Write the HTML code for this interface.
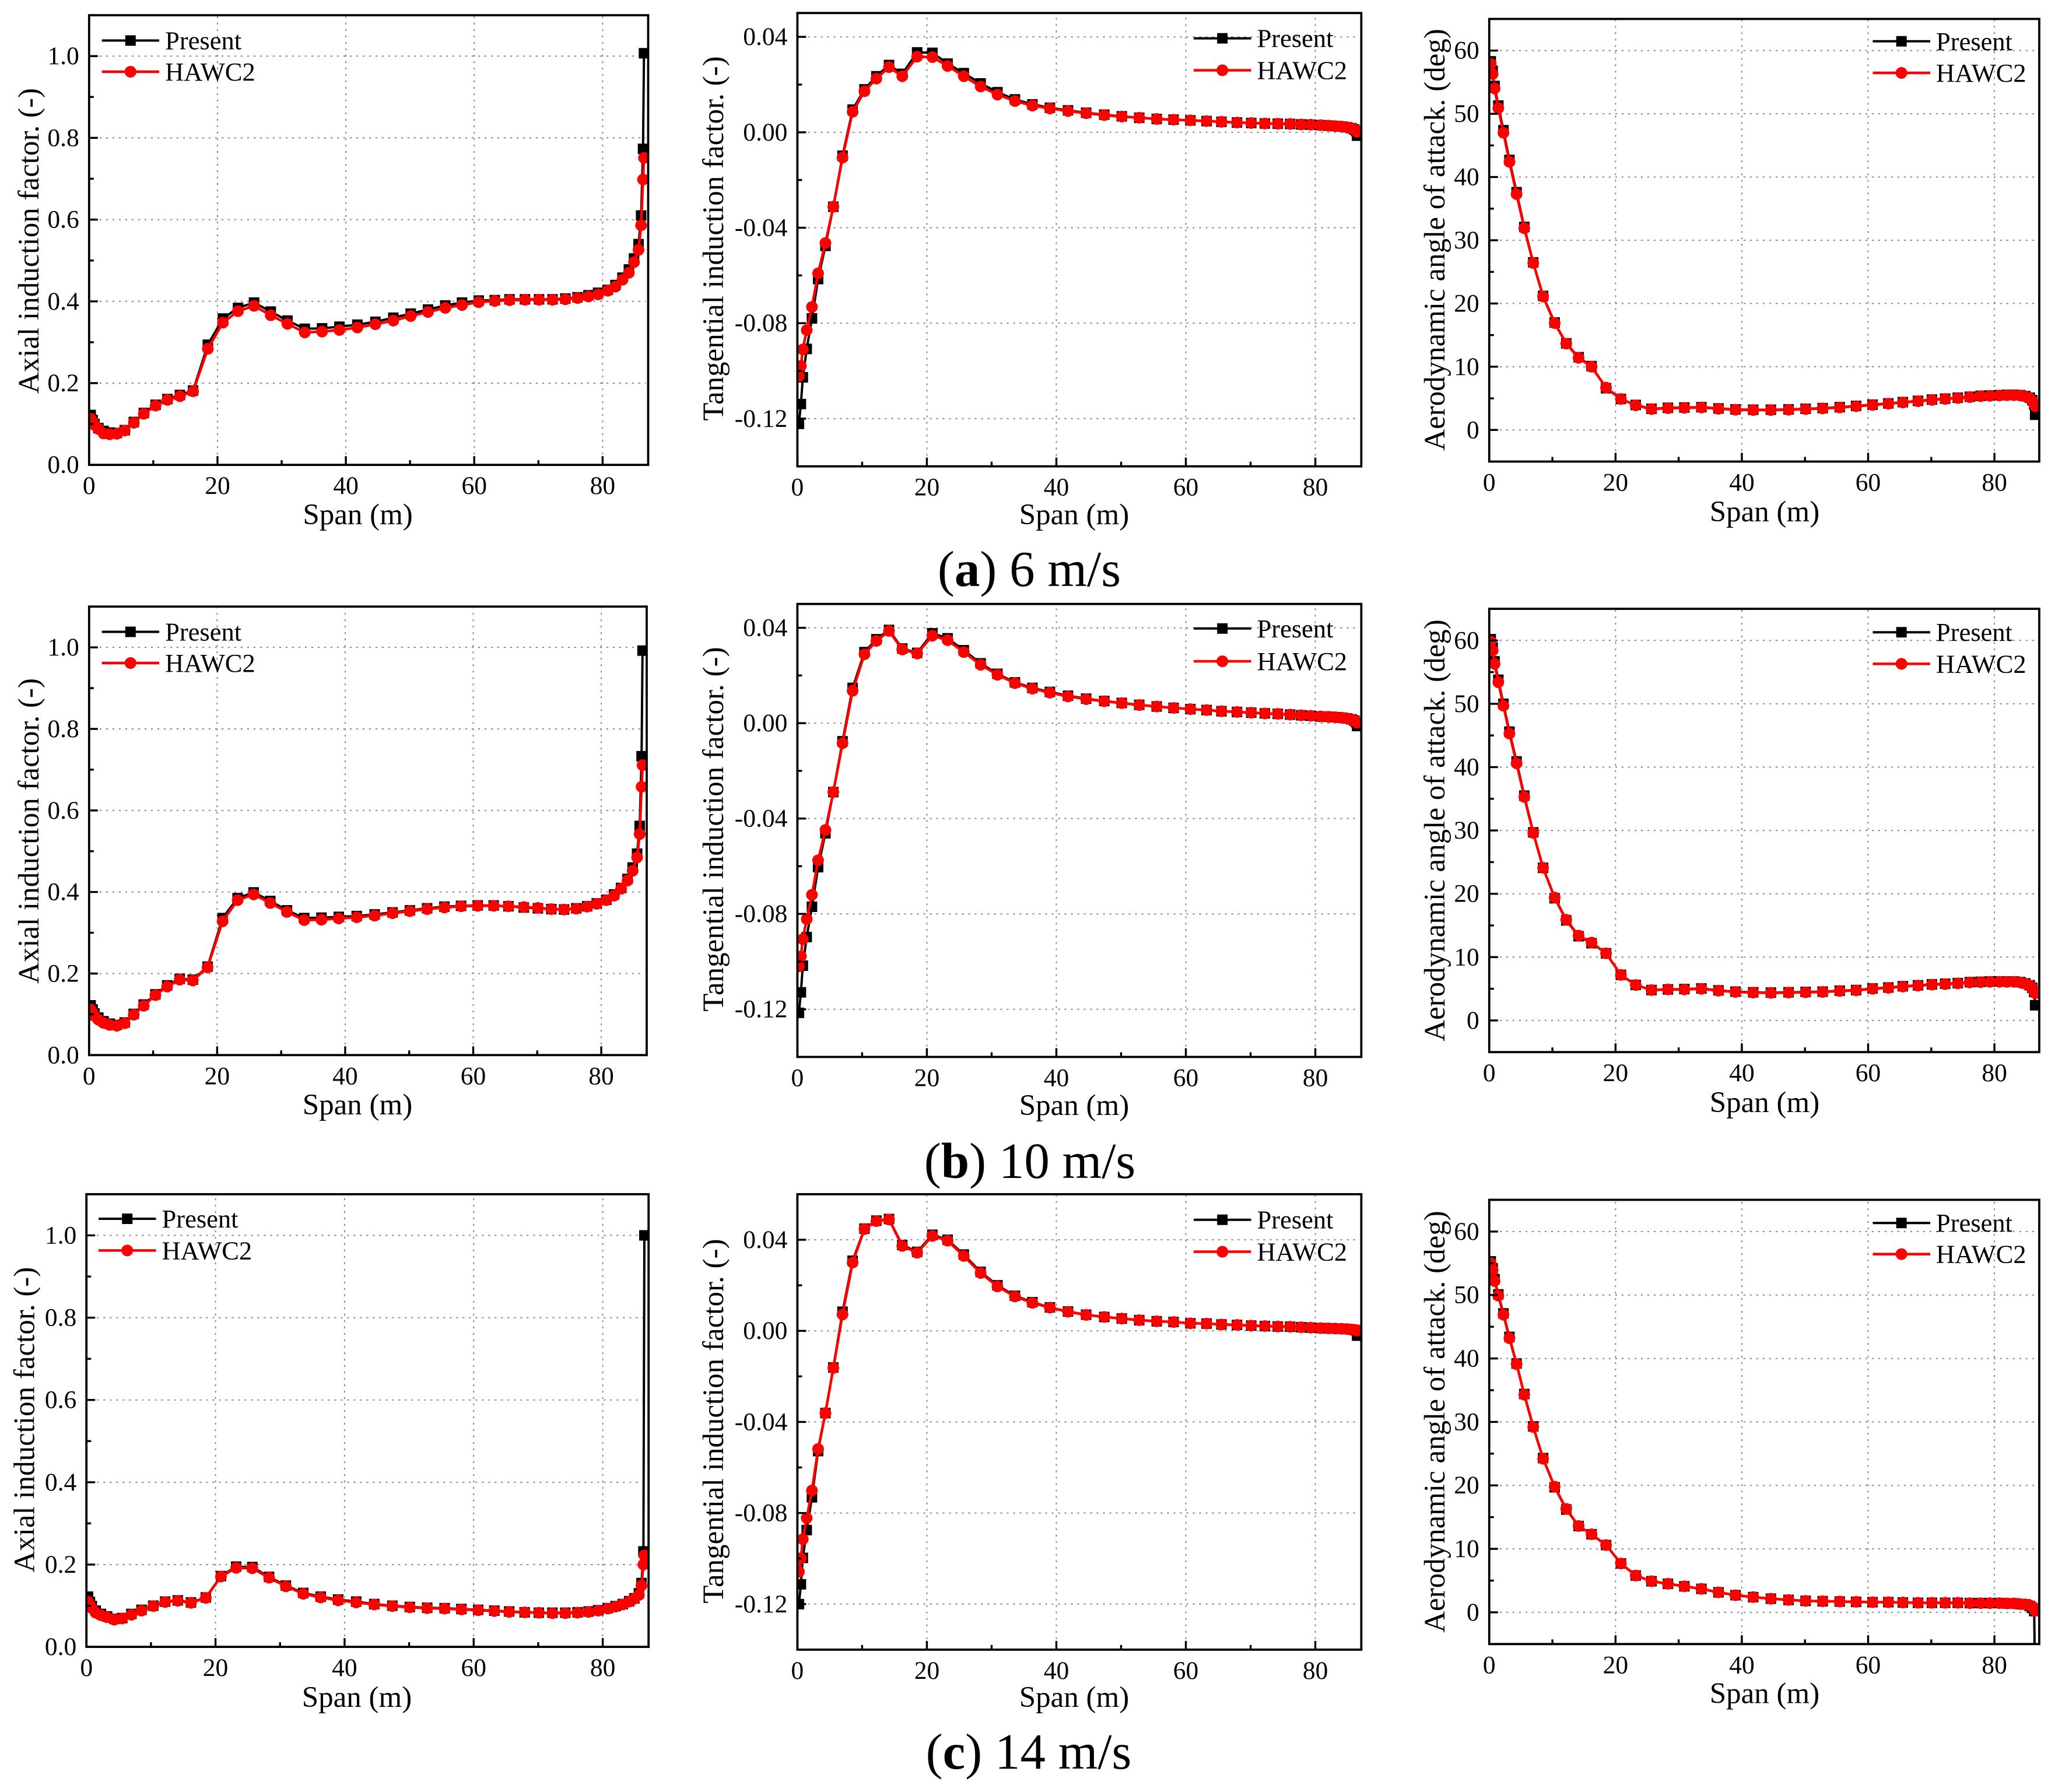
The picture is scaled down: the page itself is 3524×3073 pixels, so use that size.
<!DOCTYPE html>
<html lang="en">
<head>
<meta charset="utf-8">
<title>Induction factors and angle of attack along span</title>
<style>
html,body{margin:0;padding:0;background:#fff;}
svg{display:block;font-family:"Liberation Serif",serif;fill:#000;}
</style>
</head>
<body>
<svg id="figure" xmlns="http://www.w3.org/2000/svg" width="3524" height="3073" viewBox="0 0 3524 3073">
<rect x="0" y="0" width="3524" height="3073" fill="#fff"/>
<text x="1765" y="1005" font-size="87" text-anchor="middle">(<tspan font-weight="bold">a</tspan>) 6 m/s</text>
<text x="1766" y="2020" font-size="87" text-anchor="middle">(<tspan font-weight="bold">b</tspan>) 10 m/s</text>
<text x="1764" y="3033" font-size="87" text-anchor="middle">(<tspan font-weight="bold">c</tspan>) 14 m/s</text>
</svg>
<script>
// ---------- shared categories ----------
const spanStations=[0.24,0.54,0.84,1.44,2.25,3.2,4.33,5.55,6.97,8.53,
10.36,12.2,14.15,16.2,18.5,20.85,23.2,25.7,28.3,30.9,
33.6,36.3,39,41.8,44.6,47.4,50.1,52.8,55.5,58.1,
60.7,63.2,65.5,67.9,70.1,72.2,74.2,76.1,77.8,79.3,
80.8,82,83.1,84.1,84.9,85.6,86,86.3,86.45];

// ---------- axial induction factor ----------
const axial6Present=[.122,.11,.1,.09,.083,.079,.078,.085,.105,.127,
.147,.161,.171,.182,.294,.358,.384,.397,.375,.353,
.333,.334,.338,.343,.35,.36,.37,.38,.39,.397,
.402,.403,.405,.405,.405,.405,.407,.41,.415,.421,
.428,.44,.458,.478,.505,.54,.61,.773,1.007];
const axial6Hawc2=[.113,.105,.098,.088,.077,.075,.076,.084,.103,.125,
.145,.159,.168,.18,.284,.348,.376,.389,.366,.345,
.324,.326,.33,.336,.344,.353,.364,.374,.384,.391,
.398,.401,.403,.404,.404,.404,.405,.408,.412,.417,
.426,.436,.453,.47,.496,.526,.586,.698,.751];
const axial10Present=[.122,.112,.102,.092,.083,.077,.074,.08,.101,.124,
.149,.171,.187,.185,.217,.336,.385,.399,.378,.355,
.336,.337,.339,.341,.345,.35,.355,.36,.364,.366,
.367,.367,.365,.362,.36,.358,.357,.36,.365,.372,
.381,.394,.41,.432,.46,.494,.562,.733,.992];
const axial10Hawc2=[.112,.104,.096,.087,.079,.074,.072,.078,.099,.121,
.147,.168,.185,.183,.215,.328,.38,.394,.373,.351,
.331,.332,.335,.338,.342,.348,.353,.358,.362,.365,
.366,.366,.365,.363,.361,.358,.357,.359,.364,.371,
.38,.391,.408,.428,.452,.485,.542,.658,.711];
const axial14Present=[.122,.109,.099,.088,.08,.074,.068,.07,.08,.09,
.1,.11,.113,.108,.12,.172,.195,.194,.17,.149,
.131,.122,.115,.11,.104,.1,.097,.095,.094,.092,
.09,.088,.086,.084,.083,.083,.083,.084,.086,.089,
.094,.099,.104,.111,.118,.13,.155,.232,1.0];
const axial14Hawc2=[.11,.101,.094,.083,.077,.072,.066,.069,.078,.088,
.099,.109,.112,.107,.119,.171,.192,.191,.168,.147,
.129,.12,.113,.108,.103,.099,.096,.094,.093,.091,
.089,.087,.085,.084,.083,.082,.082,.083,.085,.088,
.093,.098,.103,.11,.117,.126,.149,.2,.222];

// ---------- tangential induction factor ----------
const tangential6Present=[-.1222,-.1139,-.1027,-.0908,-.078,-.0615,-.0476,-.0312,-.0098,.0095,
.018,.0235,.0282,.0245,.0335,.0333,.0288,.0248,.0205,.0168,
.0138,.0117,.0103,.0092,.0082,.0074,.0067,.0061,.0056,.0053,
.005,.0047,.0044,.0041,.0039,.0037,.0036,.0035,.0033,.0032,
.003,.0028,.0026,.0024,.0021,.0017,.0012,.0005,-.0014];
const tangential6Hawc2=[-.1022,-.0979,-.091,-.0829,-.0732,-.0591,-.0464,-.0312,-.0106,.0086,
.0172,.0225,.0273,.0235,.0317,.0315,.0278,.0235,.0192,.0158,
.0131,.0112,.01,.0089,.008,.0072,.0066,.0061,.0056,.0053,
.005,.0047,.0044,.0041,.0039,.0037,.0036,.0035,.0033,.0032,
.003,.0028,.0026,.0024,.0021,.0017,.0012,.0007,.0002];
const tangential10Present=[-.1215,-.1129,-.1017,-.0897,-.077,-.0604,-.0462,-.0289,-.0076,.0148,
.0298,.0352,.0391,.0313,.0295,.0377,.0356,.0306,.0251,.0207,
.0171,.0148,.0131,.0115,.0103,.0093,.0085,.0077,.007,.0064,
.0059,.0055,.005,.0047,.0044,.0041,.0039,.0036,.0033,.0031,
.0028,.0027,.0025,.0023,.002,.0016,.0011,.0004,-.0012];
const tangential10Hawc2=[-.102,-.0978,-.0906,-.0822,-.072,-.0575,-.0448,-.0289,-.0084,.0136,
.0289,.0345,.0387,.0309,.0292,.0367,.0348,.0298,.0245,.0203,
.0168,.0145,.0128,.0112,.0101,.0092,.0084,.0076,.007,.0064,
.0059,.0055,.005,.0047,.0044,.0041,.0039,.0036,.0033,.0031,
.0028,.0027,.0025,.0023,.002,.0016,.0011,.0006,.0002];
const tangential14Present=[-.12,-.1113,-.0997,-.0875,-.0731,-.0528,-.0361,-.0161,.0084,.0308,
.0449,.0484,.0491,.0377,.0347,.0422,.04,.0335,.0259,.02,
.0154,.0126,.0103,.0085,.0071,.0061,.0054,.0047,.0042,.0039,
.0033,.0032,.0028,.0026,.0023,.0021,.0019,.0018,.0016,.0014,
.0012,.0011,.001,.0009,.0008,.0006,.0004,.0002,-.0021];
const tangential14Hawc2=[-.1058,-.0999,-.0915,-.0822,-.0701,-.0519,-.0361,-.0163,.0072,.03,
.0447,.0482,.0489,.0373,.0343,.0417,.0396,.0329,.0254,.0195,
.0151,.0123,.0102,.0084,.007,.0061,.0054,.0047,.0042,.0039,
.0033,.0032,.0028,.0026,.0023,.0021,.0019,.0018,.0016,.0014,
.0012,.0011,.001,.0009,.0008,.0006,.0004,.0003,.0001];

// ---------- aerodynamic angle of attack ----------
const aoa6Present=[58.3,56.8,54.4,51.3,47.4,42.7,37.6,32.1,26.5,21.2,
17,13.7,11.5,10.1,6.6,4.9,3.95,3.35,3.5,3.55,
3.6,3.4,3.25,3.2,3.2,3.25,3.35,3.45,3.6,3.8,
4,4.2,4.4,4.6,4.8,4.95,5.1,5.25,5.4,5.45,
5.5,5.55,5.55,5.5,5.35,5.1,4.7,4,2.4];
const aoa6Hawc2=[57.9,56.3,54,50.9,47,42.4,37.3,31.9,26.4,21.1,
16.9,13.65,11.4,10,6.7,4.9,3.9,3.3,3.45,3.5,
3.55,3.35,3.2,3.15,3.15,3.2,3.3,3.4,3.55,3.75,
3.95,4.15,4.35,4.55,4.75,4.9,5.05,5.2,5.35,5.4,
5.45,5.5,5.5,5.45,5.3,5,4.6,4.15,3.75];
const aoa10Present=[60.2,58.9,56.7,53.8,50,45.6,40.9,35.5,29.7,24.1,
19.3,15.8,13.3,12.2,10.6,7.2,5.6,4.8,4.9,4.95,
5.05,4.75,4.55,4.45,4.4,4.45,4.5,4.55,4.7,4.8,
5.05,5.2,5.4,5.55,5.7,5.8,5.9,6.05,6.1,6.15,
6.15,6.15,6.15,6.05,5.85,5.55,5.15,4.5,2.4];
const aoa10Hawc2=[59.8,58.4,56.3,53.4,49.7,45.3,40.6,35.3,29.6,24.1,
19.4,15.9,13.4,12.3,10.6,7.2,5.6,4.8,4.9,4.9,
5,4.7,4.5,4.4,4.35,4.4,4.45,4.5,4.65,4.75,
5,5.15,5.35,5.5,5.65,5.75,5.85,6,6.05,6.1,
6.1,6.1,6.1,6,5.8,5.5,5.1,4.7,4.3];
const aoa14Present=[55.3,54.2,52.5,50.1,47.1,43.4,39.2,34.4,29.3,24.3,
19.7,16.2,13.6,12.3,10.6,7.7,5.8,4.9,4.5,4.1,
3.7,3.15,2.7,2.4,2.15,1.95,1.8,1.75,1.7,1.65,
1.6,1.6,1.55,1.5,1.5,1.5,1.5,1.45,1.45,1.45,
1.45,1.4,1.4,1.3,1.25,1,.7,.2,-14];
const aoa14Hawc2=[55,53.9,52.2,49.9,46.9,43.2,39.1,34.3,29.2,24.2,
19.8,16.3,13.6,12.3,10.6,7.7,5.8,4.9,4.5,4.1,
3.7,3.15,2.7,2.4,2.15,1.95,1.8,1.75,1.7,1.65,
1.6,1.6,1.55,1.5,1.5,1.5,1.5,1.45,1.45,1.45,
1.45,1.4,1.4,1.3,1.25,1.1,.9,.6,.25];

// ---------- tick values and labels ----------
const xTicks=[0,20,40,60,80];
const xTickLabels=['0','20','40','60','80'];
const xMinorTicks=[10,30,50,70];
const axialTicks=[0,.2,.4,.6,.8,1];
const axialTickLabels=['0.0','0.2','0.4','0.6','0.8','1.0'];
const axialMinorTicks=[.1,.3,.5,.7,.9];
const tangentialTicks=[-.12,-.08,-.04,0,.04];
const tangentialTickLabels=['-0.12','-0.08','-0.04','0.00','0.04'];
const tangentialMinorTicks=[-.1,-.06,-.02,.02];
const aoaTicks=[0,10,20,30,40,50,60];
const aoaTickLabels=['0','10','20','30','40','50','60'];
const aoaMinorTicks=[5,15,25,35,45,55];

// ---------- panel definitions ----------
const axialKind={title:'Axial induction factor. (-)',ticks:axialTicks,labels:axialTickLabels,minor:axialMinorTicks,titleX:66,legendX:174.6,keySlug:'axial'};
const tangentialKind={title:'Tangential induction factor. (-)',ticks:tangentialTicks,labels:tangentialTickLabels,minor:tangentialMinorTicks,titleX:1240,legendX:2047,keySlug:'tangential'};
const aoaKind={title:'Aerodynamic angle of attack. (deg)',ticks:aoaTicks,labels:aoaTickLabels,minor:aoaMinorTicks,titleX:2477,legendX:3211.5,keySlug:'aoa'};

const panels=[
{slug:'axial-6',kind:axialKind,present:axial6Present,hawc2:axial6Hawc2,l:152.8,r:1111.5,t:26.1,b:797.2,yMin:0,yMax:1.1,titleY:413,spanX:613.6,spanY:899,leg1:69.5,leg2:123},
{slug:'tangential-6',kind:tangentialKind,present:tangential6Present,hawc2:tangential6Hawc2,l:1367.4,r:2334.4,t:22.3,b:799.7,yMin:-.14,yMax:.05,titleY:409,spanX:1842,spanY:899,leg1:65.7,leg2:120.5},
{slug:'aoa-6',kind:aoaKind,present:aoa6Present,hawc2:aoa6Hawc2,l:2553.8,r:3497,t:32.5,b:791.5,yMin:-5,yMax:65,titleY:411,spanX:3026,spanY:894,leg1:70.8,leg2:125},
{slug:'axial-10',kind:axialKind,present:axial10Present,hawc2:axial10Hawc2,l:152.8,r:1109,t:1040.2,b:1809.3,yMin:0,yMax:1.1,titleY:1425,spanX:613,spanY:1911,leg1:1083.5,leg2:1137},
{slug:'tangential-10',kind:tangentialKind,present:tangential10Present,hawc2:tangential10Hawc2,l:1367.4,r:2334.4,t:1035.7,b:1812.5,yMin:-.14,yMax:.05,titleY:1422,spanX:1842,spanY:1912,leg1:1077.8,leg2:1134},
{slug:'aoa-10',kind:aoaKind,present:aoa10Present,hawc2:aoa10Hawc2,l:2553.8,r:3497,t:1044,b:1804.2,yMin:-5,yMax:65,titleY:1424,spanX:3026,spanY:1907,leg1:1084.2,leg2:1138.4},
{slug:'axial-14',kind:axialKind,present:axial14Present,hawc2:axial14Hawc2,l:148.2,r:1112.2,t:2047.9,b:2824.1,yMin:0,yMax:1.1,titleX:58.7,legendX:169,titleY:2434.6,spanX:612,spanY:2927,leg1:2090,leg2:2144.4},
{slug:'tangential-14',kind:tangentialKind,present:tangential14Present,hawc2:tangential14Hawc2,l:1367.4,r:2334.4,t:2047.9,b:2828.9,yMin:-.14,yMax:.06,titleY:2437,spanX:1842,spanY:2927,leg1:2091.7,leg2:2146.5},
{slug:'aoa-14',kind:aoaKind,present:aoa14Present,hawc2:aoa14Hawc2,l:2553.8,r:3497,t:2057.5,b:2819.3,yMin:-5,yMax:65,titleY:2438,spanX:3026,spanY:2920.6,leg1:2097.2,leg2:2150.6}
];

const X_MAX=87.1;
const NS='http://www.w3.org/2000/svg';
const root=document.getElementById('figure');

function mk(tag,parent,attrs,text){
  const node=document.createElementNS(NS,tag);
  for(const k in attrs){node.setAttribute(k,attrs[k]);}
  if(text!==undefined){node.textContent=text;}
  parent.appendChild(node);
  return node;
}

function linePath(xs,ys,sx,sy){
  return xs.map((v,i)=>(i?'L':'M')+sx(v).toFixed(2)+' '+sy(ys[i]).toFixed(2)).join(' ');
}

function drawSeries(g,xs,ys,sx,sy,isPresent){
  let el=mk('path',g,{d:linePath(xs,ys,sx,sy),fill:'none',stroke:isPresent?'#000':'#f00','stroke-width':isPresent?4:4.5,'stroke-linejoin':'round'});
  
  
  xs.forEach((v,i)=>{
    if(isPresent){
      el=mk('rect',g,{x:(sx(v)-9).toFixed(2),y:(sy(ys[i])-9).toFixed(2),width:18,height:18,fill:'#000'});
      
      
    }else{
      el=mk('circle',g,{cx:sx(v).toFixed(2),cy:sy(ys[i]).toFixed(2),r:10,fill:'#f00'});
      
      
    }
  });
}

panels.forEach(p=>{
  const sx=v=>p.l+(v/X_MAX)*(p.r-p.l);
  const sy=v=>p.b-((v-p.yMin)/(p.yMax-p.yMin))*(p.b-p.t);
  const kind=p.kind;
  const g=mk('g',root,{});
  
  

  const defs=mk('defs',g,{});
  const clip=mk('clipPath',defs,{id:'clip-'+p.slug});
  mk('rect',clip,{x:p.l,y:p.t,width:p.r-p.l,height:p.b-p.t});

  // grid
  const grid=mk('g',g,{stroke:'#8a8a8a','stroke-width':2,'stroke-dasharray':'3.3 7.7',fill:'none'});
  
  
  xTicks.forEach(v=>{
    if(v===0)return;
    const el=mk('line',grid,{x1:sx(v),x2:sx(v),y1:p.b-18,y2:p.t+2});
    
    
  });
  kind.ticks.forEach(v=>{
    const el=mk('line',grid,{x1:p.l+18,x2:p.r-4,y1:sy(v),y2:sy(v)});
    
    
  });

  // series
  const plot=mk('g',g,{'clip-path':'url(#clip-'+p.slug+')'});
  
  
  drawSeries(plot,spanStations,p.present,sx,sy,true);
  drawSeries(plot,spanStations,p.hawc2,sx,sy,false);

  // ticks
  const ticks=mk('g',g,{stroke:'#000','stroke-width':3.4});
  
  
  xTicks.forEach(v=>{
    const el=mk('line',ticks,{x1:sx(v),x2:sx(v),y1:p.b,y2:p.b-15});
    
    
  });
  xMinorTicks.forEach(v=>{
    const el=mk('line',ticks,{x1:sx(v),x2:sx(v),y1:p.b,y2:p.b-8});
    
    
  });
  kind.ticks.forEach(v=>{
    const el=mk('line',ticks,{x1:p.l,x2:p.l+15,y1:sy(v),y2:sy(v)});
    
    
  });
  kind.minor.forEach(v=>{
    const el=mk('line',ticks,{x1:p.l,x2:p.l+8,y1:sy(v),y2:sy(v)});
    
    
  });

  // frame
  const frame=mk('rect',g,{x:p.l,y:p.t,width:p.r-p.l,height:p.b-p.t,fill:'none',stroke:'#000','stroke-width':3.8});
  
  

  // tick labels
  xTicks.forEach((v,i)=>{
    const el=mk('text',g,{x:sx(v),y:p.b+50,'font-size':43.5,'text-anchor':'middle'},xTickLabels[i]);
    
    
  });
  kind.ticks.forEach((v,i)=>{
    const el=mk('text',g,{x:p.l-17,y:sy(v)+14,'font-size':43.5,'text-anchor':'end'},kind.labels[i]);
    
    
  });

  // axis titles
  const xTitle=mk('text',g,{x:p.spanX,y:p.spanY,'font-size':51,'text-anchor':'middle'},'Span (m)');
  
  
  const tx=p.titleX!==undefined?p.titleX:kind.titleX;
  const yTitle=mk('text',g,{x:tx,y:p.titleY,'font-size':51,'text-anchor':'middle',transform:'rotate(-90 '+tx+' '+p.titleY+')'},kind.title);
  
  

  // legend
  const lx=p.legendX!==undefined?p.legendX:kind.legendX;
  const legend=mk('g',g,{});
  
  
  const presentEntry=mk('g',legend,{});
  
  
  mk('line',presentEntry,{x1:lx,x2:lx+98.5,y1:p.leg1,y2:p.leg1,stroke:'#000','stroke-width':4});
  mk('rect',presentEntry,{x:lx+49.2-9,y:p.leg1-9,width:18,height:18,fill:'#000'});
  mk('text',presentEntry,{x:lx+108.5,y:p.leg1+15,'font-size':44.5},'Present');
  const hawcEntry=mk('g',legend,{});
  
  
  mk('line',hawcEntry,{x1:lx,x2:lx+98.5,y1:p.leg2,y2:p.leg2,stroke:'#f00','stroke-width':4.5});
  mk('circle',hawcEntry,{cx:lx+49.2,cy:p.leg2,r:10,fill:'#f00'});
  mk('text',hawcEntry,{x:lx+108.5,y:p.leg2+15,'font-size':44.5},'HAWC2');
});
</script>
</body>
</html>
